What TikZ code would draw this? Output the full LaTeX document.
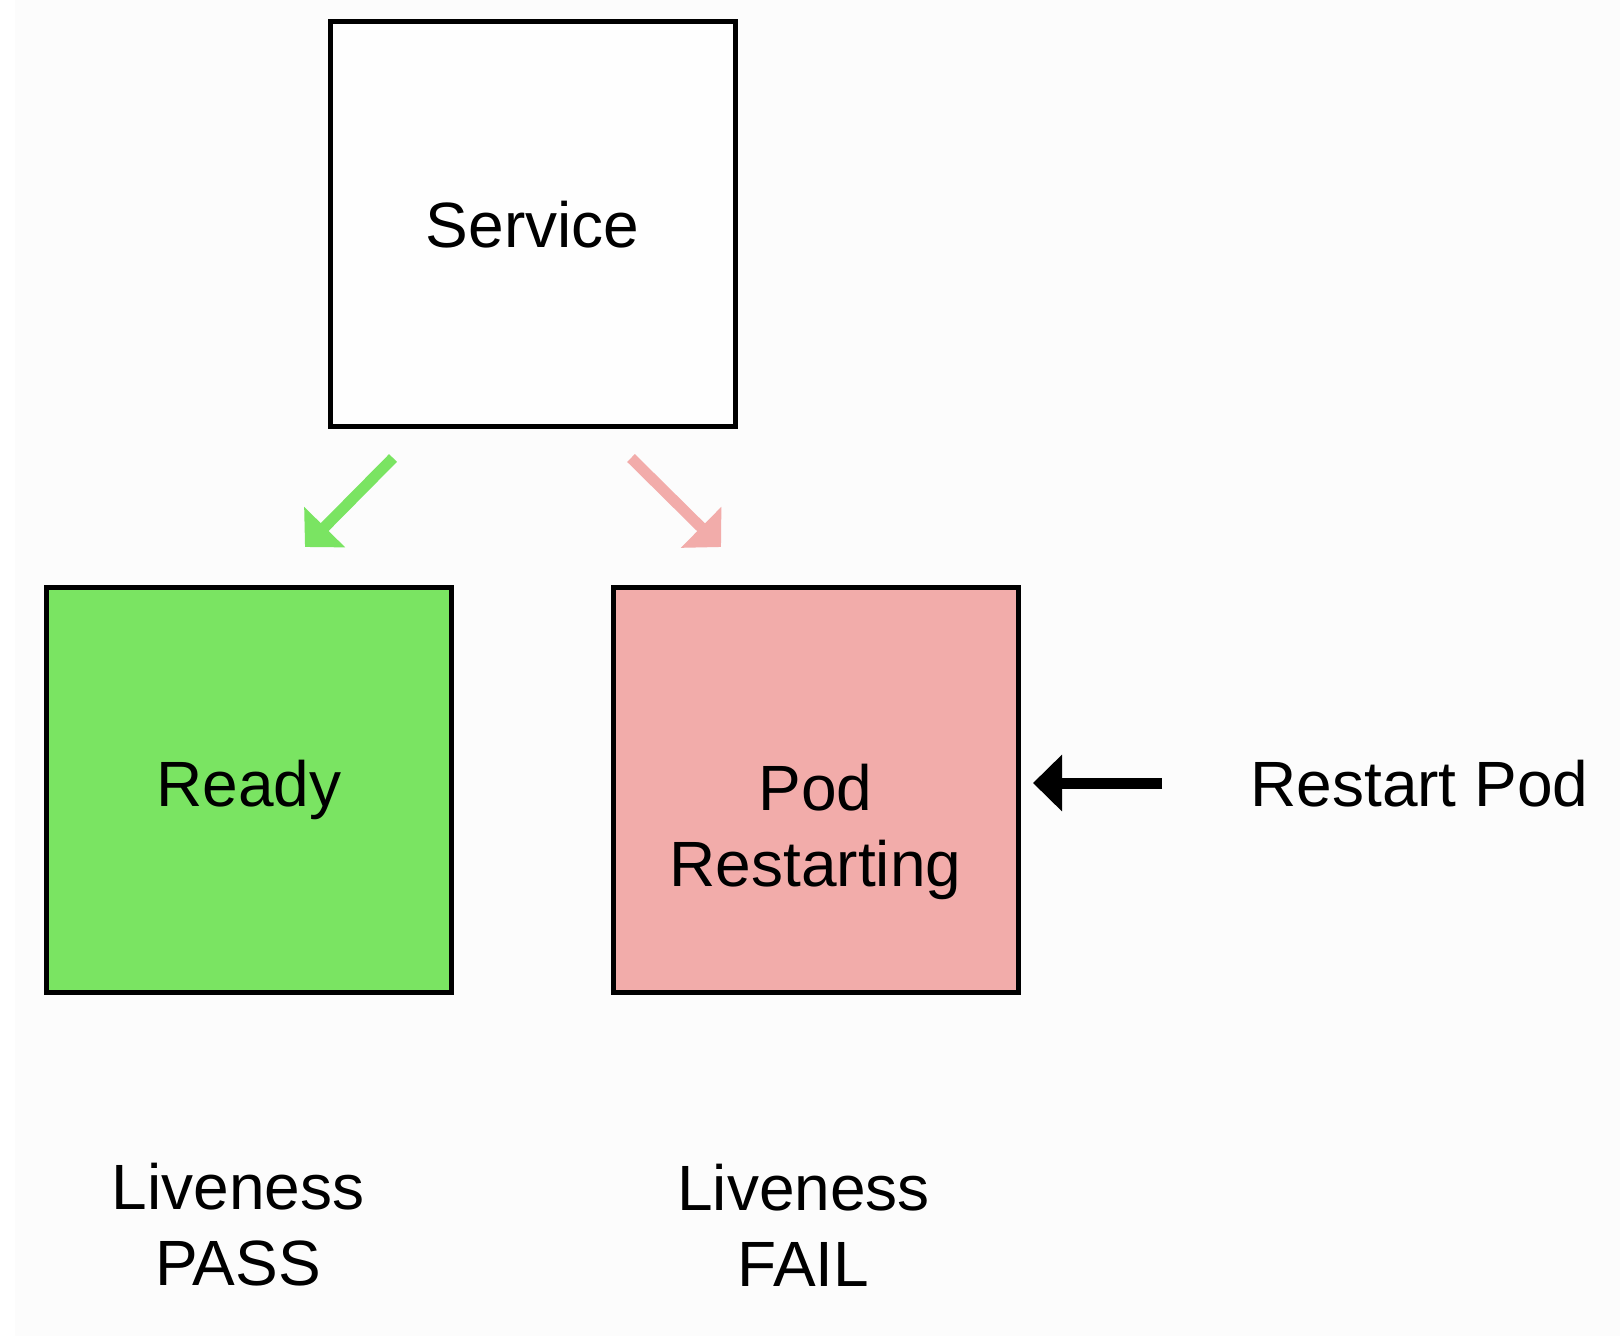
\documentclass[tikz,border=0pt]{standalone}
\usepackage{fontspec}
\setmainfont{Liberation Sans}
\usetikzlibrary{arrows.meta}
\definecolor{okgreen}{HTML}{7AE462}
\definecolor{failpink}{HTML}{F2ACAA}
\definecolor{bgpaper}{HTML}{FCFCFC}
\begin{document}
\begin{tikzpicture}[x=0.5pt,y=-0.5pt,
        box/.style={draw=black,line width=2.5pt,minimum size=202.5pt,inner sep=0pt},
        caption/.style={align=center,font=\fontsize{32}{38}\selectfont},
        greenarrow/.style={okgreen,line width=5.5pt,-{Triangle[width=28pt,length=14pt]}},
        pinkarrow/.style={failpink,line width=5.5pt,-{Triangle[width=28pt,length=14pt]}},
        blackarrow/.style={black,line width=5.5pt,-{Triangle[width=27.5pt,length=14.5pt]}}]
    \useasboundingbox (0,0) rectangle (1620,1336);
    \fill[bgpaper] (15,0) rectangle (1620,1336);
    % boxes
    \node[box,fill=white!60!bgpaper,font=\fontsize{32}{38}\selectfont] (service) at (532.5,224.5) {Service};
    \node[box,fill=okgreen,font=\fontsize{32}{38}\selectfont] (ready) at (249,790) {Ready};
    \node[box,fill=failpink] (pod) at (815.5,790) {};
    \node[caption] (podtext) at (815.5,832) {Pod\\Restarting};
    % labels below
    \node[caption] (passtext) at (238,1225) {Liveness\\PASS};
    \node[caption] (failtext) at (803.5,1225) {Liveness\\FAIL};
    \node[font=\fontsize{32}{38}\selectfont,anchor=base west,inner sep=0pt] (restart) at (1250,806) {Restart Pod};
    % arrows
    \coordinate (gstart) at (393,458);
    \coordinate (gend) at (305,547);
    \coordinate (pstart) at (631,458);
    \coordinate (pend) at (721,547);
    \coordinate (bstart) at (1162,783);
    \coordinate (bend) at (1033,783);
    \draw[greenarrow] (gstart) -- (gend);
    \draw[pinkarrow] (pstart) -- (pend);
    \draw[blackarrow] (bstart) -- (bend);
\end{tikzpicture}
\end{document}
